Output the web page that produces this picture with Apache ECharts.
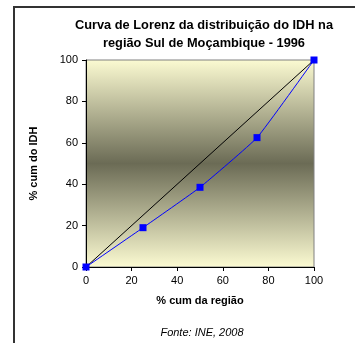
<!DOCTYPE html>
<html><head><meta charset="utf-8">
<script src="https://cdn.jsdelivr.net/npm/echarts@6/dist/echarts.min.js"></script>
<style>html,body{margin:0;padding:0;background:#fff}#c{width:355px;height:343px}</style>
</head><body><div id="c"></div>
<script>
const titleText = 'Curva de Lorenz da distribuição do IDH na\nregião Sul de Moçambique - 1996';
const xName = '% cum da região';
const yName = '% cum do IDH';
const sourceText = 'Fonte: INE, 2008';
const regionCum = [0, 25, 50, 75, 100];
const idhCum = [0, 19, 38.5, 62.5, 100];
const equalityX = [0, 100];
const equalityY = [0, 100];

const chart = echarts.init(document.getElementById('c'));
const font = 'Liberation Sans, Arial, sans-serif';
chart.setOption({
  animation: false,
  title: {
    text: titleText, left: 199, top: 11, textAlign: 'center',
    textStyle: {fontFamily: font, fontSize: 12.8, fontWeight: 'bold', color: '#000', lineHeight: 18}
  },
  grid: {
    left: 86, top: 60, width: 228, height: 207, show: true,
    borderColor: '#808080', borderWidth: 1,
    backgroundColor: new echarts.graphic.LinearGradient(0, 0, 0, 1, [
      {offset: 0, color: '#fcfbd2'},
      {offset: 0.5, color: '#6b6b55'},
      {offset: 1, color: '#fcfbd2'}
    ])
  },
  xAxis: {
    type: 'value', min: 0, max: 100, interval: 20,
    name: xName, nameLocation: 'middle', nameGap: 28,
    nameTextStyle: {fontFamily: font, fontSize: 11, fontWeight: 'bold', color: '#000'},
    axisLine: {lineStyle: {color: '#000', width: 1}},
    axisTick: {show: true, inside: false, length: 4, lineStyle: {color: '#000'}},
    axisLabel: {fontFamily: font, fontSize: 11, color: '#000', margin: 8},
    splitLine: {show: false}
  },
  yAxis: {
    type: 'value', min: 0, max: 100, interval: 20,
    name: yName, nameLocation: 'middle', nameGap: 47, nameRotate: 90,
    nameTextStyle: {fontFamily: font, fontSize: 11, fontWeight: 'bold', color: '#000'},
    axisLine: {show: true, lineStyle: {color: '#000', width: 1}},
    axisTick: {show: true, inside: false, length: 4, lineStyle: {color: '#000'}},
    axisLabel: {fontFamily: font, fontSize: 11, color: '#000', margin: 8},
    splitLine: {show: false}
  },
  series: [
    {
      type: 'line', data: equalityX.map((x, i) => [x, equalityY[i]]),
      showSymbol: false, symbol: 'none',
      lineStyle: {color: '#000', width: 1}, z: 2
    },
    {
      type: 'line', data: regionCum.map((x, i) => [x, idhCum[i]]),
      symbol: 'rect', symbolSize: 7, smooth: 0.12,
      itemStyle: {color: '#0000ff'},
      lineStyle: {color: '#0000ff', width: 1}, z: 3
    }
  ],
  graphic: [
    {type: 'polyline', shape: {points: [[14, 343], [14, 7], [355, 7]]},
     style: {stroke: '#333', lineWidth: 2, fill: null}},
    {type: 'text', x: 202, y: 333, style: {text: sourceText, textAlign: 'center', textVerticalAlign: 'middle',
      font: 'italic 11px ' + font, fill: '#000'}}
  ]
});
</script></body></html>
